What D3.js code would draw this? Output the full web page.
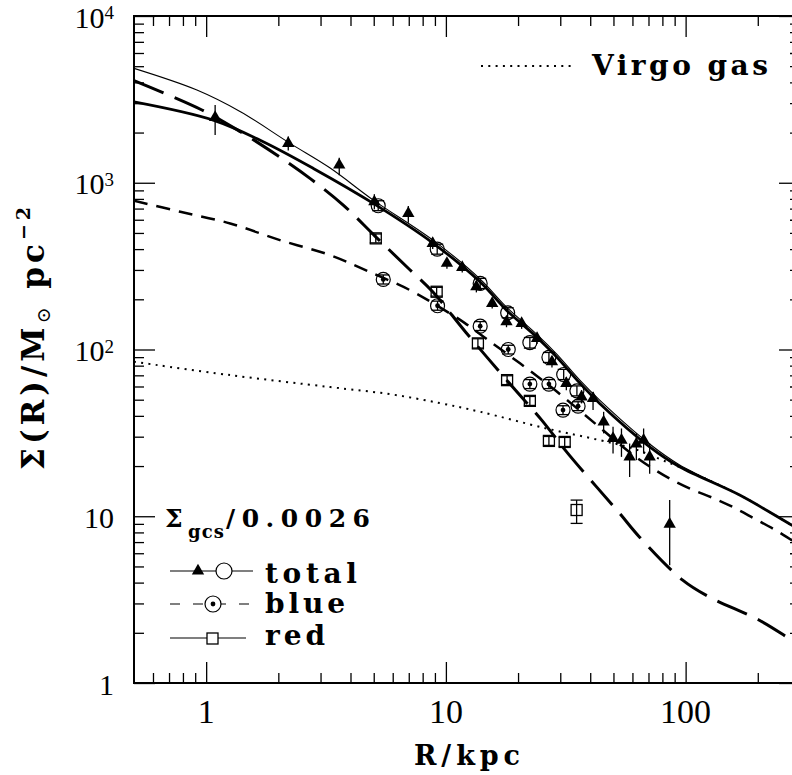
<!DOCTYPE html>
<html>
<head>
<meta charset="utf-8">
<script src="https://cdn.jsdelivr.net/npm/d3@7"></script>
<style>
  body { margin: 0; background: #fff; }
  svg { display: block; }
</style>
</head>
<body>
<svg id="chart" width="792" height="775"></svg>
<script>
// ---- model profiles: radius (kpc) and surface density (Msun / pc^2) ----
const thinModelR = [0.5, 0.915, 1.39, 2.24, 3.29, 4.98, 8.83, 13.9, 17.9, 23.9, 29.0, 36.2, 43.8, 70.8, 94.4, 168, 277, 300];
const thinModelS = [4853, 3597, 2667, 1722, 1225, 787, 453, 264.5, 179.6, 123.7, 93.8, 65.5, 49.7, 27.1, 20.3, 13.4, 8.85, 8.3];

const thickModelR = [0.5, 1.07, 1.73, 2.8, 4.98, 8.83, 13.9, 17.9, 23.9, 29.0, 36.2, 43.8, 70.8, 94.4, 168, 277, 300];
const thickModelS = [3060, 2377, 1762, 1219, 752, 435, 254, 172, 119, 90, 62.9, 47.5, 26.1, 19.8, 13.4, 8.85, 8.3];

const longDashR = [0.5, 0.96, 1.39, 1.97, 2.71, 3.73, 5.06, 6.95, 8.83, 12.1, 19.0, 25.1, 32.2, 42.6, 53.1, 64.3, 97.2, 126, 203, 277, 300];
const longDashS = [4093, 2730, 2023, 1466, 1062, 735, 479, 308, 221, 127, 59.5, 37.7, 23.9, 14.95, 10.4, 7.49, 4.14, 3.27, 2.38, 1.81, 1.69];

const blueModelR = [0.5, 0.78, 1.26, 2.03, 3.29, 4.73, 7.08, 9.26, 12.0, 14.8, 20.3, 28.5, 42.2, 58.4, 71.5, 86.6, 105.9, 129.6, 158.5, 193.9, 237, 277, 300];
const blueModelS = [780, 670, 570, 453, 368, 295, 227, 182, 144, 115.5, 82.9, 57.1, 35.7, 24.2, 19.7, 16.7, 14.5, 12.9, 11.3, 9.67, 8.26, 7.19, 6.7];

const gasR = [0.5, 1.26, 3.29, 5.84, 9.44, 13.9, 26.3, 43.8, 60.3, 83.2, 94.4, 168, 277, 300];
const gasS = [84.4, 70.2, 59.5, 54.0, 47.7, 42.3, 33.6, 28.6, 25.5, 21.2, 19.7, 13.4, 8.85, 8.3];

// ---- globular cluster counts scaled by 1/0.0026 ----
const totalTriR  = [1.09, 2.20, 3.59, 5.03, 6.97, 8.81, 10.1, 11.7, 13.4, 15.6, 17.9, 20.7, 24.0, 27.7, 31.8, 36.8, 41.1, 45.5, 49.8, 54.0, 58.4, 62.3, 66.8, 70.8, 85.8];
const totalTriS  = [2468, 1722, 1277, 769, 655, 433, 329, 311, 238, 189, 146.6, 143.4, 116.6, 84.4, 62.6, 52.0, 50.9, 36.8, 29.3, 28.6, 22.7, 27.1, 28.6, 22.7, 8.97];
const totalTriLo = [1933, 1563, 1111, 693, 575, 400, 305, 290, 220, 176, 136, 133, 108, 78, 57, 47.5, 43.3, 31.4, 23.8, 22.7, 17.2, 21.7, 23.8, 18.0, 5.09];
const totalTriHi = [2924, 1897, 1413, 854, 725, 468, 354, 333, 257, 203, 158, 154, 126, 91, 68.5, 57, 55.7, 42.3, 34.4, 33.6, 27.3, 31.4, 33.6, 27.3, 12.5];

const totalCircR  = [5.22, 9.20, 13.9, 18.1, 22.4, 26.9, 31.0, 35.2];
const totalCircS  = [728, 400, 249, 166, 110, 89.7, 70.8, 56.5];
const totalCircLo = [680, 373, 232, 155, 102, 83.6, 66, 52.7];
const totalCircHi = [780, 428, 267, 178, 118, 96, 76, 60.5];

const blueR  = [5.48, 9.23, 13.9, 18.2, 22.4, 26.9, 30.8, 35.6];
const blueS  = [263, 183, 138, 100, 62, 62, 43.3, 45.7];
const blueLo = [247, 172, 130, 94, 58.3, 58.3, 40.7, 43];
const blueHi = [280, 195, 147, 106, 66, 66, 46, 48.6];

const redR  = [5.1, 9.15, 13.6, 18.0, 22.4, 26.9, 31.3, 35.1];
const redS  = [464, 222, 108.8, 65.5, 49.2, 28.3, 27.9, 10.9];
const redLo = [436, 209, 102, 61.6, 46.2, 26.6, 26.2, 9.06];
const redHi = [493, 236, 116, 69.6, 52.3, 30.1, 29.7, 12.5];

// ---- axis ticks ----
const xMajor = [1, 10, 100];
const xTickLabels = ["1", "10", "100"];
const yMajor = [1, 10, 100, 1000, 10000];
const yTickBase = ["1", "10", "10", "10", "10"];
const yTickExp  = ["", "", "2", "3", "4"];

// ---- layout ----
const plot = { left: 134, right: 800, top: 16, bottom: 683 };
const serif = "'Liberation Serif', 'Times New Roman', serif";
const boldSerif = "'DejaVu Serif', 'Liberation Serif', serif";

const x = d3.scaleLog().domain([0.5, 300]).range([plot.left, plot.right]);
const y = d3.scaleLog().domain([1, 1e4]).range([plot.bottom, plot.top]);

const svg = d3.select("#chart");

svg.append("defs").append("clipPath").attr("id", "plotClip")
  .append("rect")
  .attr("x", plot.left).attr("y", plot.top)
  .attr("width", plot.right - plot.left).attr("height", plot.bottom - plot.top);

// minor tick values: 2..9 within every decade
function minorTicks(lo, hi) {
  const out = [];
  for (let d = Math.floor(Math.log10(lo)); d <= Math.ceil(Math.log10(hi)); d++) {
    for (let k = 2; k <= 9; k++) {
      const v = k * Math.pow(10, d);
      if (v > lo * 1.0001 && v < hi * 0.9999) out.push(v);
    }
  }
  return out;
}
const xMinor = minorTicks(0.5, 300);
const yMinor = minorTicks(1, 1e4);

function tickAxis(gen, values, size, transform) {
  const g = svg.append("g").attr("transform", transform)
    .call(gen.tickValues(values).tickSize(size).tickFormat(""));
  g.select(".domain").remove();
  g.selectAll(".tick line").attr("stroke", "#000").attr("stroke-width", 1.3);
  return g;
}
// inward ticks on all four sides
tickAxis(d3.axisBottom(x), xMajor, -21, `translate(0,${plot.bottom})`);
tickAxis(d3.axisBottom(x), xMinor, -10, `translate(0,${plot.bottom})`);
tickAxis(d3.axisTop(x), xMajor, -21, `translate(0,${plot.top})`);
tickAxis(d3.axisTop(x), xMinor, -10, `translate(0,${plot.top})`);
tickAxis(d3.axisLeft(y), yMajor, -21, `translate(${plot.left},0)`);
tickAxis(d3.axisLeft(y), yMinor, -10, `translate(${plot.left},0)`);
tickAxis(d3.axisRight(y), yMajor, -21, `translate(${plot.right},0)`);
tickAxis(d3.axisRight(y), yMinor, -10, `translate(${plot.right},0)`);

// frame
svg.append("rect")
  .attr("x", plot.left).attr("y", plot.top)
  .attr("width", plot.right - plot.left).attr("height", plot.bottom - plot.top)
  .attr("fill", "none").attr("stroke", "#000").attr("stroke-width", 2);

// tick labels
svg.append("g").selectAll("text").data(xMajor).join("text")
  .attr("x", d => x(d)).attr("y", 723)
  .attr("text-anchor", "middle")
  .attr("font-family", serif).attr("font-size", 34)
  .text((d, i) => xTickLabels[i]);

const yLab = svg.append("g").selectAll("text").data(yMajor).join("text")
  .attr("x", 114).attr("y", d => y(d) + 11.5)
  .attr("text-anchor", "end")
  .attr("font-family", serif).attr("font-size", 30);
yLab.append("tspan").text((d, i) => yTickBase[i]);
yLab.append("tspan")
  .attr("font-size", 19).attr("dy", -8.5)
  .text((d, i) => yTickExp[i]);

// axis titles
svg.append("text")
  .attr("x", (plot.left + plot.right) / 2).attr("y", 765)
  .attr("text-anchor", "middle")
  .attr("font-family", boldSerif).attr("font-size", 27).attr("font-weight", "bold")
  .attr("textLength", 106).attr("lengthAdjust", "spacing")
  .text("R/kpc");

const yTitle = svg.append("text")
  .attr("transform", "translate(44,470) rotate(-90)")
  .attr("text-anchor", "start")
  .attr("font-family", boldSerif).attr("font-size", 31).attr("font-weight", "bold")
  .attr("letter-spacing", 4);
yTitle.append("tspan").text("Σ(R)/M");
yTitle.append("tspan").attr("font-size", 19).attr("dy", 6).attr("font-weight", "normal").text("⊙");
yTitle.append("tspan").attr("dy", -6).text(" pc");
yTitle.append("tspan").attr("font-size", 19).attr("dy", -14).text("−2");

// ---- model curves ----
const curves = svg.append("g").attr("clip-path", "url(#plotClip)");
const line = d3.line().x(d => x(d[0])).y(d => y(d[1])).curve(d3.curveCatmullRom.alpha(0.5));
const zipPts = (rs, ss) => rs.map((r, i) => [r, ss[i]]);

function drawCurve(rs, ss, width, dash) {
  curves.append("path")
    .datum(zipPts(rs, ss))
    .attr("d", line)
    .attr("fill", "none").attr("stroke", "#000")
    .attr("stroke-width", width)
    .attr("stroke-dasharray", dash || null)
    .attr("stroke-linecap", "butt");
}
drawCurve(gasR, gasS, 2, "2,5.3");
drawCurve(blueModelR, blueModelS, 2.5, "14,9");
drawCurve(longDashR, longDashS, 3, "32,12");
drawCurve(thinModelR, thinModelS, 1.1);
drawCurve(thickModelR, thickModelS, 2.8);

// ---- data points ----
const pts = svg.append("g").attr("clip-path", "url(#plotClip)");

function errorBars(rs, lo, hi, cap) {
  const g = pts.append("g").attr("stroke", "#000").attr("stroke-width", 1.3);
  g.selectAll("line.v").data(rs).join("line")
    .attr("x1", d => x(d)).attr("x2", d => x(d))
    .attr("y1", (d, i) => y(lo[i])).attr("y2", (d, i) => y(hi[i]));
  if (cap) {
    [lo, hi].forEach(arr => {
      g.selectAll(null).data(rs).join("line")
        .attr("x1", d => x(d) - cap).attr("x2", d => x(d) + cap)
        .attr("y1", (d, i) => y(arr[i])).attr("y2", (d, i) => y(arr[i]));
    });
  }
}

// total: filled triangles
errorBars(totalTriR, totalTriLo, totalTriHi, 0);
pts.append("g").selectAll("path").data(totalTriR).join("path")
  .attr("transform", (d, i) => `translate(${x(d)},${y(totalTriS[i])})`)
  .attr("d", d3.symbol(d3.symbolTriangle, 66))
  .attr("fill", "#000");

// total: open circles
errorBars(totalCircR, totalCircLo, totalCircHi, 6);
pts.append("g").selectAll("circle").data(totalCircR).join("circle")
  .attr("cx", d => x(d)).attr("cy", (d, i) => y(totalCircS[i]))
  .attr("r", 7).attr("fill", "none").attr("stroke", "#000").attr("stroke-width", 1.2);

// blue: dotted circles
errorBars(blueR, blueLo, blueHi, 6);
const blueG = pts.append("g").selectAll("g").data(blueR).join("g")
  .attr("transform", (d, i) => `translate(${x(d)},${y(blueS[i])})`);
blueG.append("circle").attr("r", 7).attr("fill", "none").attr("stroke", "#000").attr("stroke-width", 1.2);
blueG.append("circle").attr("r", 2.4).attr("fill", "#000");

// red: open squares
errorBars(redR, redLo, redHi, 6);
pts.append("g").selectAll("rect").data(redR).join("rect")
  .attr("x", d => x(d) - 5.5).attr("y", (d, i) => y(redS[i]) - 5.5)
  .attr("width", 11).attr("height", 11)
  .attr("fill", "none").attr("stroke", "#000").attr("stroke-width", 1.3);

// ---- legends ----
const leg = svg.append("g");
const legFont = 28;
// Virgo gas
leg.append("line").attr("x1", 481).attr("x2", 575).attr("y1", 66).attr("y2", 66)
  .attr("stroke", "#000").attr("stroke-width", 2).attr("stroke-dasharray", "2,5.3");
leg.append("text").attr("x", 592).attr("y", 75)
  .attr("font-family", boldSerif).attr("font-size", legFont).attr("font-weight", "bold")
  .attr("textLength", 176).attr("lengthAdjust", "spacing")
  .text("Virgo gas");

// Σgcs / 0.0026
leg.append("text").attr("x", 165).attr("y", 527)
  .attr("font-family", boldSerif).attr("font-size", 25).attr("font-weight", "bold").text("Σ");
leg.append("text").attr("x", 188).attr("y", 538)
  .attr("font-family", boldSerif).attr("font-size", 18).attr("font-weight", "bold")
  .attr("textLength", 36).attr("lengthAdjust", "spacing").text("gcs");
leg.append("text").attr("x", 226).attr("y", 527)
  .attr("font-family", boldSerif).attr("font-size", 25).attr("font-weight", "bold")
  .attr("textLength", 144).attr("lengthAdjust", "spacing").text("/0.0026");

// total row
leg.append("line").attr("x1", 170).attr("x2", 253).attr("y1", 571).attr("y2", 571)
  .attr("stroke", "#000").attr("stroke-width", 1.2);
leg.append("path").attr("transform", "translate(198,571)")
  .attr("d", d3.symbol(d3.symbolTriangle, 66)).attr("fill", "#000");
leg.append("circle").attr("cx", 224).attr("cy", 571).attr("r", 8)
  .attr("fill", "#fff").attr("stroke", "#000").attr("stroke-width", 1.2);
leg.append("text").attr("x", 265).attr("y", 583)
  .attr("font-family", boldSerif).attr("font-size", legFont).attr("font-weight", "bold")
  .attr("textLength", 92).attr("lengthAdjust", "spacing").text("total");

// blue row
leg.append("line").attr("x1", 170).attr("x2", 253).attr("y1", 604).attr("y2", 604)
  .attr("stroke", "#000").attr("stroke-width", 1.2).attr("stroke-dasharray", "10,13");
leg.append("circle").attr("cx", 213).attr("cy", 604).attr("r", 8)
  .attr("fill", "#fff").attr("stroke", "#000").attr("stroke-width", 1.2);
leg.append("circle").attr("cx", 213).attr("cy", 604).attr("r", 2.4).attr("fill", "#000");
leg.append("text").attr("x", 265).attr("y", 613)
  .attr("font-family", boldSerif).attr("font-size", legFont).attr("font-weight", "bold")
  .attr("textLength", 80).attr("lengthAdjust", "spacing").text("blue");

// red row
leg.append("line").attr("x1", 170).attr("x2", 246).attr("y1", 638).attr("y2", 638)
  .attr("stroke", "#000").attr("stroke-width", 1.2);
leg.append("rect").attr("x", 207).attr("y", 633).attr("width", 11).attr("height", 11)
  .attr("fill", "#fff").attr("stroke", "#000").attr("stroke-width", 1.3);
leg.append("text").attr("x", 265).attr("y", 645)
  .attr("font-family", boldSerif).attr("font-size", legFont).attr("font-weight", "bold")
  .attr("textLength", 60).attr("lengthAdjust", "spacing").text("red");
</script>
</body>
</html>
